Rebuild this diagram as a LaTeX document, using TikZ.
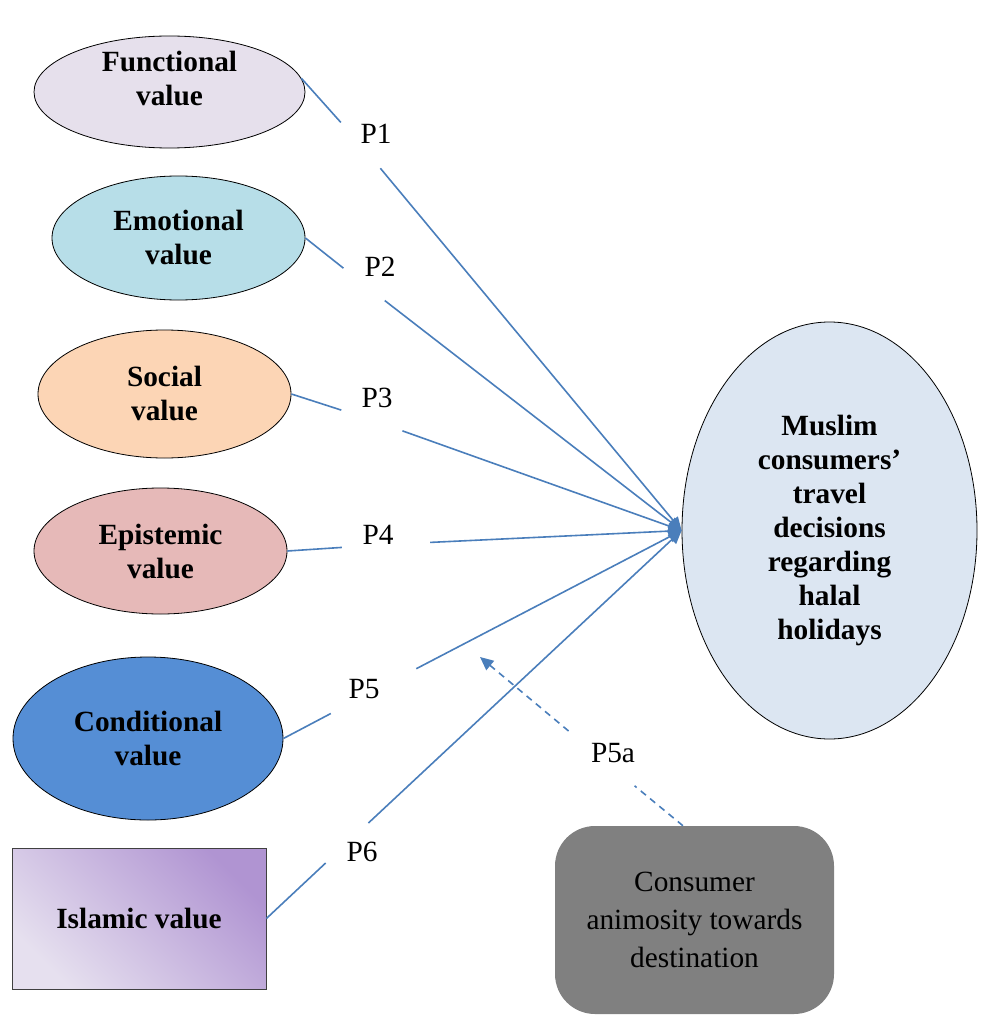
\documentclass[tikz,border=0pt]{standalone}
\usepackage{fontspec}
\setmainfont{Liberation Serif}
\usepackage{xcolor}
\usetikzlibrary{arrows.meta,shapes.geometric}

\definecolor{funcfill}{HTML}{E6E0EC}
\definecolor{emofill}{HTML}{B7DEE8}
\definecolor{socfill}{HTML}{FCD5B5}
\definecolor{epifill}{HTML}{E6B9B8}
\definecolor{condfill}{HTML}{558ED5}
\definecolor{decfill}{HTML}{DCE6F2}
\definecolor{animfill}{HTML}{808080}
\definecolor{islo}{HTML}{E6E0EF}
\definecolor{ishi}{HTML}{B094D2}
\definecolor{linkblue}{HTML}{4A7EBB}

\begin{document}
\begin{tikzpicture}[
    x=0.75pt, y=-0.75pt,
    >={Triangle[length=10pt,width=9pt]},
    val/.style   = {ellipse, draw=black, line width=0.6pt, align=center,
                    inner sep=1pt, font=\fontsize{22}{25.5}\selectfont\bfseries},
    valtext/.style = {align=center, inner sep=0pt,
                    font=\fontsize{22}{25.5}\selectfont\bfseries},
    isl/.style   = {rectangle, draw=black!75, line width=0.6pt, align=center,
                    minimum width=190.5pt, minimum height=105.75pt,
                    font=\fontsize{22}{25.5}\selectfont\bfseries},
    anim/.style  = {rectangle, rounded corners=30pt, fill=animfill, align=center,
                    minimum width=209.25pt, minimum height=141pt,
                    font=\fontsize{22}{28.5}\selectfont},
    plab/.style  = {font=\fontsize{22}{25}\selectfont, inner sep=0pt},
    brk/.style   = {circle, inner sep=0pt},
    link/.style  = {draw=linkblue, line width=1.2pt},
    mod/.style   = {draw=linkblue, line width=1.2pt, dash pattern=on 5pt off 4pt},
]
\useasboundingbox (0,0) rectangle (987,1016);

% =============================== value dimensions =============================
\node[val, fill=funcfill, minimum width=203.25pt, minimum height=84pt]
     (fv)  at (169.5, 92)   {};
\node[valtext] (fvtext) at (169.5, 79) {Functional\\value};
\node[val, fill=emofill,  minimum width=189.75pt, minimum height=93pt]
     (ev)  at (178.5, 238)  {Emotional\\value};
\node[val, fill=socfill,  minimum width=189.75pt, minimum height=96pt]
     (sv)  at (164.5, 394)  {Social\\value};
\node[val, fill=epifill,  minimum width=189.75pt, minimum height=94.5pt]
     (epv) at (160.5, 551)  {Epistemic\\value};
\node[val, fill=condfill, minimum width=202.5pt,  minimum height=122.25pt]
     (cv)  at (148, 738.5)  {Conditional\\value};
\node[isl, bottom color=islo, top color=ishi, shading angle=-45]
     (iv)  at (139, 918.5)  {Islamic value};

% =============================== outcome and moderator ========================
\node[val, fill=decfill, minimum width=221.25pt, minimum height=312.75pt]
     (dec) at (829.5, 530.5)
     {Muslim\\consumers'\\travel\\decisions\\regarding\\halal\\holidays};
\node[anim] (ani) at (694.5, 920) {Consumer\\animosity towards\\destination};

% =============================== paths P1--P6 =================================
% each path is broken where its label sits
\foreach \src/\g/\gx/\gy/\d/\tx/\ty/\t in {
    fv.6/g1/361/145/45pt/376/134/P1,
    ev.east/g2/364/284.5/39pt/380/267/P2,
    sv.east/g3/372/420/48pt/377/398/P3,
    epv.east/g4/386/544.5/66pt/378/535/P4,
    cv.east/g5/373.5/691/72pt/364/689/P5,
    iv.east/g6/347/843/43.5pt/362/852/P6} {
    \node[brk, minimum size=\d] (\g) at (\gx, \gy) {};
    \node[plab] (lab\t) at (\tx, \ty) {\t};
    \draw[link] (\src) -- (\g);
    \draw[link, ->] (\g) -- (dec.west);
}

% moderating path P5a (dashed)
\node[brk, minimum size=64pt] (g5a) at (601.5, 758.5) {};
\node[plab] (labP5a) at (613, 753) {P5a};
\coordinate (p5tip) at (480, 657);
\draw[mod] (ani.97.5) -- (g5a);
\draw[mod, ->] (g5a) -- (p5tip);

\end{tikzpicture}
\end{document}
